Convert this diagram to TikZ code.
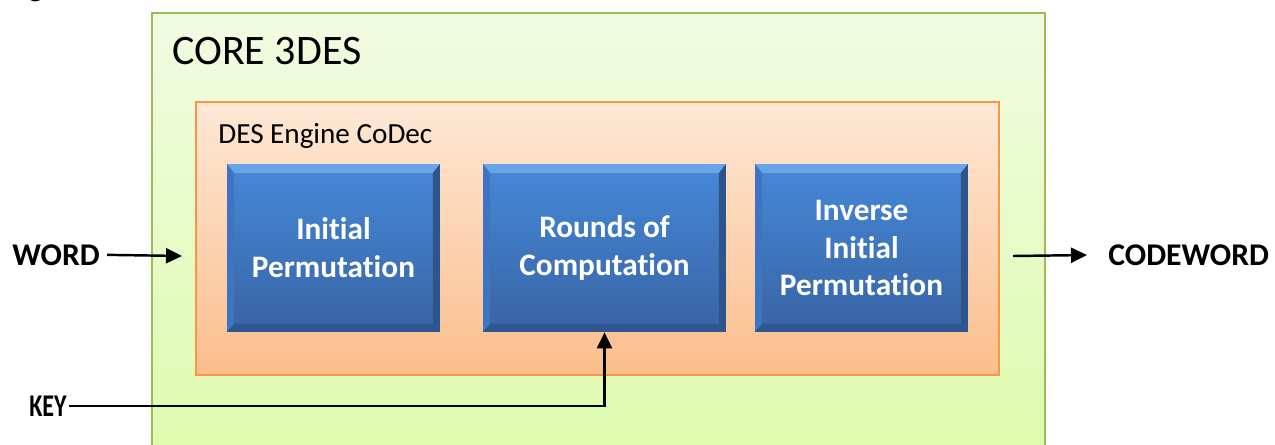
\documentclass[tikz,border=0pt]{standalone}
\usepackage{fontspec}
\setmainfont{Carlito}[Ligatures={NoCommon}]
\usetikzlibrary{arrows.meta,positioning,calc}
\definecolor{leaf}{RGB}{155,187,89}
\definecolor{leaftop}{RGB}{241,251,226}
\definecolor{leafbot}{RGB}{220,251,170}
\definecolor{peach}{RGB}{247,150,70}
\definecolor{peachtop}{RGB}{253,232,214}
\definecolor{peachbot}{RGB}{251,190,140}
\definecolor{steeltop}{RGB}{70,136,216}
\definecolor{steelbot}{RGB}{56,100,164}
\definecolor{steellight}{RGB}{104,164,234}
\definecolor{steelleft}{RGB}{62,116,192}
\definecolor{steeldark}{RGB}{46,84,140}
\tikzset{
  >={Triangle[length=3.2mm,width=3mm]},
  frame/.style={draw=#1,line width=1.3pt,top color=#1top,bottom color=#1bot,
    rectangle,inner sep=0pt},
  title/.style={anchor=base west,inner sep=0pt,text=black},
  tag/.style={anchor=base west,inner sep=0pt,font=\fontsize{18}{21}\selectfont\bfseries},
  wire/.style={line width=1.4pt,draw=black},
  stage/.style={rectangle,inner sep=0pt,minimum width=#1,minimum height=3.36cm,
    top color=steeltop,bottom color=steelbot,text=white,align=center,
    font=\fontsize{17.8}{21.6}\selectfont\bfseries,
    path picture={
      \coordinate (nw) at (path picture bounding box.north west);
      \coordinate (ne) at (path picture bounding box.north east);
      \coordinate (sw) at (path picture bounding box.south west);
      \coordinate (se) at (path picture bounding box.south east);
      \fill[steellight] (nw) -- (ne) -- ([shift={(-0.14cm,-0.18cm)}]ne) -- ([shift={(0.14cm,-0.18cm)}]nw) -- cycle;
      \fill[steelleft] (nw) -- ([shift={(0.14cm,-0.18cm)}]nw) -- ([shift={(0.14cm,0.16cm)}]sw) -- (sw) -- cycle;
      \fill[steeldark] (ne) -- ([shift={(-0.14cm,-0.18cm)}]ne) -- ([shift={(-0.14cm,0.16cm)}]se) -- (se) -- cycle;
      \fill[steeldark!85!steelbot] (sw) -- ([shift={(0.14cm,0.16cm)}]sw) -- ([shift={(-0.14cm,0.16cm)}]se) -- (se) -- cycle;
    }},
  stage/.default=4.26cm,
}
\begin{document}
\begin{tikzpicture}[x=0.02cm,y=-0.02cm]
  \useasboundingbox (0,0) rectangle (1275,444);
  \clip (0,0) rectangle (1275,444);
  \node[title,font=\fontsize{17.6}{21}\selectfont] (cut) at (28,-4) {g};
  % outer core and engine
  \node[frame=leaf,minimum width=17.86cm,minimum height=9.4cm] (core) at (598.5,248) {};
  \node[title,font=\fontsize{23.9}{28}\selectfont] (coretitle) at (172,64) {CORE 3DES};
  \node[frame=peach,minimum width=16.06cm,minimum height=5.46cm] (engine) at (597.5,238.5) {};
  \node[title,font=\fontsize{16.6}{20}\selectfont] (enginetitle) at (218,143) {DES Engine CoDec};
  % stages
  \node[stage] (ip) at (333.5,248) {Initial\\Permutation};
  \node[stage=4.86cm] (rounds) at (604.5,248) {Rounds of\\Computation};
  \node[stage] (iip) at (861.5,248) {Inverse\\Initial\\Permutation};
  % inputs and outputs
  \node[tag] (word) at (12,265) {WORD};
  \node[tag] (codeword) at (1108,265) {CODEWORD};
  \node[tag] (key) at (29,416) {\scalebox{0.76}[1]{KEY}};
  \coordinate (wordin) at (182,256);
  \coordinate (codeout) at (1013,256);
  \draw[wire,->,shorten <=0.14cm] (word.east) -- (wordin);
  \draw[wire,->,shorten >=0.42cm] (codeout) -- (codeword.west);
  \draw[wire,->,shorten <=0.04cm] (key.east) -| (rounds.south);
\end{tikzpicture}
\end{document}
